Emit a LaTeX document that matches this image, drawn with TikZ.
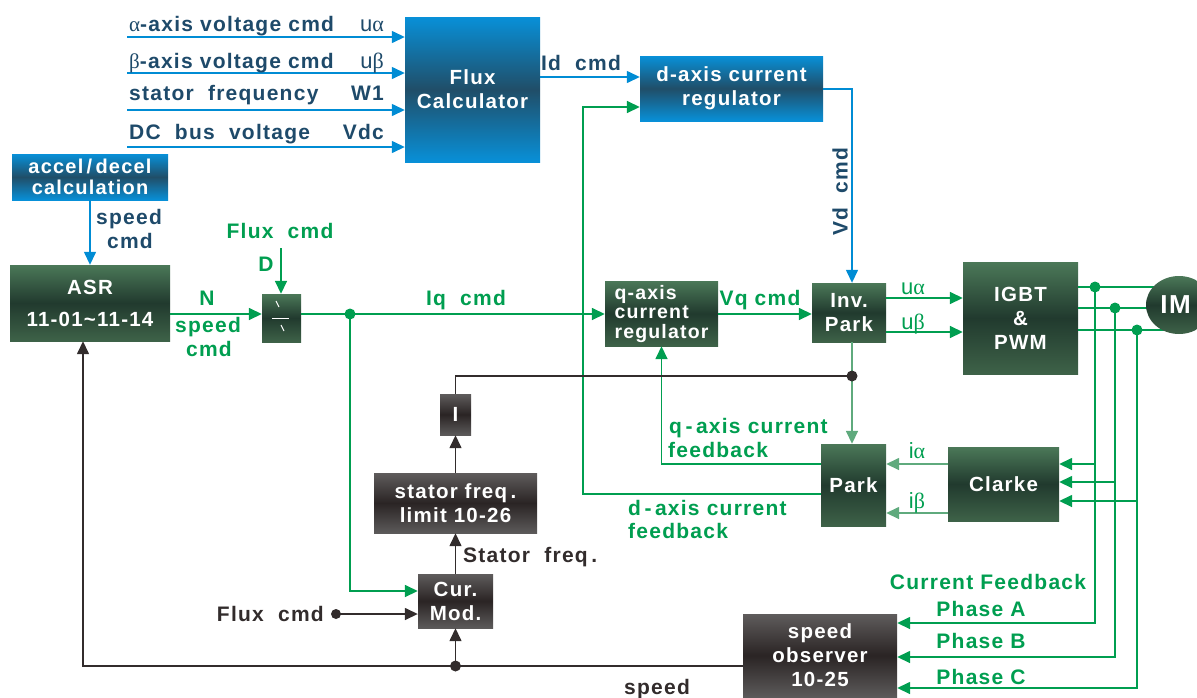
\documentclass[tikz,border=0pt]{standalone}
\usepackage{fontspec}
\setmainfont{Liberation Sans}[LetterSpace=6]
\newfontfamily\grk{Liberation Serif}
\usetikzlibrary{arrows.meta,shapes.geometric}
\definecolor{cblue}{RGB}{0,140,212}
\definecolor{ctxt}{RGB}{30,74,106}
\definecolor{cgreen}{RGB}{0,158,80}
\definecolor{lgreen}{RGB}{95,170,125}
\definecolor{cdark}{RGB}{50,44,44}
\definecolor{bl1}{RGB}{8,144,216}
\definecolor{bl2}{RGB}{32,78,104}
\definecolor{g1}{RGB}{75,120,88}
\definecolor{g2}{RGB}{33,58,46}
\definecolor{g3}{RGB}{62,98,72}
\definecolor{k1}{RGB}{95,92,92}
\definecolor{k2}{RGB}{42,36,36}
\definecolor{k3}{RGB}{92,90,90}
\begin{document}
\begin{tikzpicture}[x=1pt,y=-1pt,
  box/.style={rectangle, inner sep=0pt, text=white, align=center, font=\bfseries\fontsize{20.5}{24}\selectfont},
  bbox/.style={box, top color=bl1, bottom color=bl1, middle color=bl2},
  gbox/.style={box, top color=g1, bottom color=g3, middle color=g2},
  kbox/.style={box, top color=k1, bottom color=k3, middle color=k2},
  sz/.style 2 args={minimum width=#1pt, minimum height=#2pt},
  tip/.style={-{Triangle[length=13pt,width=12pt]}},
  bl/.style={draw=cblue, line width=1.4pt, tip},
  gl/.style={draw=cgreen, line width=1.6pt, tip},
  gln/.style={draw=cgreen, line width=1.6pt},
  lgl/.style={draw=lgreen, line width=1.6pt, tip},
  kl/.style={draw=cdark, line width=1.5pt, tip},
  kln/.style={draw=cdark, line width=1.5pt},
  lbl/.style={inner sep=0pt, font=\bfseries\fontsize{21}{24}\selectfont},
  thin/.style={font=\mdseries\fontsize{22}{24}\selectfont},
]
\useasboundingbox (0,0) rectangle (1197,697);

% ---------- boxes ----------
\node[bbox, sz={135}{145}] (flux) at (472.5,89.5) {Flux\\Calculator};
\node[bbox, sz={156}{46}, font=\bfseries\fontsize{20}{21}\selectfont] (accel) at (90,177) {accel\,/\,decel\\calculation};
\node[bbox, sz={183}{65}] (dreg) at (731.5,88.5) {d-axis current\\regulator};
\node[gbox, sz={160}{76}] (asr) at (90,303) {ASR\\[8pt]11-01\textasciitilde 11-14};
\node[gbox, sz={39}{48}] (div) at (281.5,318) {};
\node[gbox, sz={113}{65}, align=left, font=\bfseries\fontsize{19.5}{19.5}\selectfont] (qreg) at (661.5,313.5) {q-axis\\current\\regulator};
\node[gbox, sz={74}{59}] (inv) at (849,312.5) {Inv.\\Park};
\node[gbox, sz={115}{112}] (igbt) at (1020.5,318) {IGBT\\\&\\PWM};
\node[gbox, sz={65}{82}] (park) at (853.5,485) {Park};
\node[gbox, sz={111}{74}] (clarke) at (1003.5,484) {Clarke};
\node[kbox, sz={31}{41}] (ibox) at (455.5,414.5) {I};
\node[kbox, sz={163}{60}] (sfl) at (455.5,503) {stator freq\,.\\limit 10-26};
\node[kbox, sz={75}{54}] (cur) at (455.5,601) {Cur.\\Mod.};
\node[kbox, sz={154}{83}] (so) at (820,655.5) {speed\\observer\\10-25};

% divider symbol
\draw[white, line width=1pt] (276,301) -- (279,307);
\draw[white, line width=1pt] (272,318) -- (289,318);
\draw[white, line width=1pt] (281,325) -- (284,331);

% ---------- blue connectors ----------
\foreach \y/\n in {37/a,73/b,110/c,147/d}{
  \coordinate (in\n) at (127,\y);
  \draw[bl] (in\n) -- (in\n -| flux.west);
}
\draw[bl] (flux.east |- 0,77) -- (dreg.west |- 0,77);
\draw[bl] (dreg.east |- 0,89) -| ([xshift=3pt]inv.north);
\draw[bl] (accel.south) -- (asr.north);

% ---------- green connectors ----------
\draw[gl] (asr.east |- 0,314) -- (div.west |- 0,314);
\coordinate (fd) at (281,248);
\draw[gl] (fd) -- (fd |- div.north);
\draw[gl] (div.east |- 0,314) -- (qreg.west |- 0,314);
\coordinate (j1) at (350,314);
\draw[gl] (j1) |- (cur.west |- 0,591);
\fill[cgreen] (j1) circle (5.5pt);
\draw[gl] (qreg.east |- 0,314) -- (inv.west |- 0,314);
\draw[gl] (inv.east |- 0,298) -- (igbt.west |- 0,298);
\draw[gl] (inv.east |- 0,332) -- (igbt.west |- 0,332);

\coordinate (pa) at (1095,287);
\coordinate (pb) at (1115,308);
\coordinate (pc) at (1137,330);
\draw[gln] (igbt.east |- pa) -- (1165,287);
\draw[gln] (igbt.east |- pb) -- (1165,308);
\draw[gln] (igbt.east |- pc) -- (1170,330);
\draw[gl] (pa) |- (so.east |- 0,623);
\draw[gl] (pb) |- (so.east |- 0,657);
\draw[gl] (pc) |- (so.east |- 0,688);
\draw[gl] (pa |- 0,464) -- (clarke.east |- 0,464);
\draw[gl] (pb |- 0,482) -- (clarke.east |- 0,482);
\draw[gl] (pc |- 0,501) -- (clarke.east |- 0,501);
\foreach \p in {pa,pb,pc} \fill[cgreen] (\p) circle (5.5pt);

\draw[gl] (park.west |- 0,464) -| (qreg.south);
\draw[gl] (park.west |- 0,494) -- (583,494) -- (583,107) -- (dreg.west |- 0,107);
\draw[lgl] (clarke.west |- 0,464) -- (park.east |- 0,464);
\draw[lgl] (clarke.west |- 0,513) -- (park.east |- 0,513);
\draw[lgl] ([xshift=3pt]inv.south) -- ([xshift=-1.5pt]park.north);

% ---------- dark connectors ----------
\draw[kl] (so.west |- 0,666) -| ([xshift=-7pt]asr.south);
\coordinate (j2) at (455.5,666);
\draw[kl] (j2) -- (cur.south);
\fill[cdark] (j2) circle (5.5pt);
\draw[kl] (cur.north) -- (sfl.south);
\draw[kl] (sfl.north) -- (ibox.south);
\coordinate (j3) at (852,376);
\draw[kln] (ibox.north) |- (j3);
\fill[cdark] (j3) circle (5.5pt);
\coordinate (fc) at (336,614);
\draw[kl] (fc) -- (cur.west |- fc);
\fill[cdark] (fc) circle (5pt);

% ---------- IM ----------
\node[ellipse, inner sep=0pt, minimum width=66pt, minimum height=58pt, top color=g1, bottom color=g3, middle color=g2, text=white, font=\bfseries\fontsize{26}{28}\selectfont] (im) at (1179,305) {\hspace*{-7pt}IM};

% ---------- labels ----------
\begin{scope}[every node/.style={lbl, text=ctxt}]
\node[anchor=base west] (t1) at (129,31) {{\grk\mdseries α}-axis voltage cmd};
\node[anchor=base east, thin] (t1r) at (384,31) {u{\grk α}};
\node[anchor=base west] (t2) at (129,68) {{\grk\mdseries β}-axis voltage cmd};
\node[anchor=base east, thin] (t2r) at (384,68) {u{\grk β}};
\node[anchor=base west] (t3) at (129,100) {stator\ \ frequency};
\node[anchor=base east] (t3r) at (384,100) {W1};
\node[anchor=base west] (t4) at (129,139) {DC\ \ bus\ \ voltage};
\node[anchor=base east] (t4r) at (384,139) {Vdc};
\node[anchor=base] (tid) at (581,70) {Id\ \ cmd};
\node[anchor=base] (tsc1) at (129,224) {speed};
\node[anchor=base] (tsc2) at (130,248) {cmd};
\node[rotate=90] (tvd) at (840,192) {Vd\ \ cmd};
\end{scope}

\begin{scope}[every node/.style={lbl, text=cgreen}]
\node[anchor=base] (tfc) at (280,238) {Flux\ \ cmd};
\node[anchor=base] (td) at (266,271) {D};
\node[anchor=base] (tn) at (207,305) {N};
\node[anchor=base] (tn2) at (208,332) {speed};
\node[anchor=base] (tn3) at (209,356) {cmd};
\node[anchor=base] (tiq) at (466,305) {Iq\ \ cmd};
\node[anchor=base] (tvq) at (760,305) {Vq cmd};
\node[anchor=base, thin] (tua) at (913,294) {u{\grk α}};
\node[anchor=base, thin] (tub) at (913,329) {u{\grk β}};
\node[anchor=base west] (tqf1) at (669,433) {q\,-\,axis current};
\node[anchor=base west] (tqf2) at (668,457) {feedback};
\node[anchor=base west] (tdf1) at (628,515) {d\,-\,axis current};
\node[anchor=base west] (tdf2) at (628,538) {feedback};
\node[anchor=base, thin] (tia) at (917,458) {i{\grk α}};
\node[anchor=base, thin] (tib) at (917,508) {i{\grk β}};
\node[anchor=base] (tcf) at (988,589) {Current Feedback};
\node[anchor=base] (tpa) at (981,616) {Phase A};
\node[anchor=base] (tpb) at (981,648) {Phase B};
\node[anchor=base] (tpc) at (981,684) {Phase C};
\end{scope}

\begin{scope}[every node/.style={lbl, text=cdark}]
\node[anchor=base east] (tfx) at (324,621) {Flux\ \ cmd};
\node[anchor=base west] (tsf) at (463,562) {Stator\ \ freq\,.};
\node[anchor=base] (tsp) at (657,694) {speed};
\end{scope}
\end{tikzpicture}
\end{document}
